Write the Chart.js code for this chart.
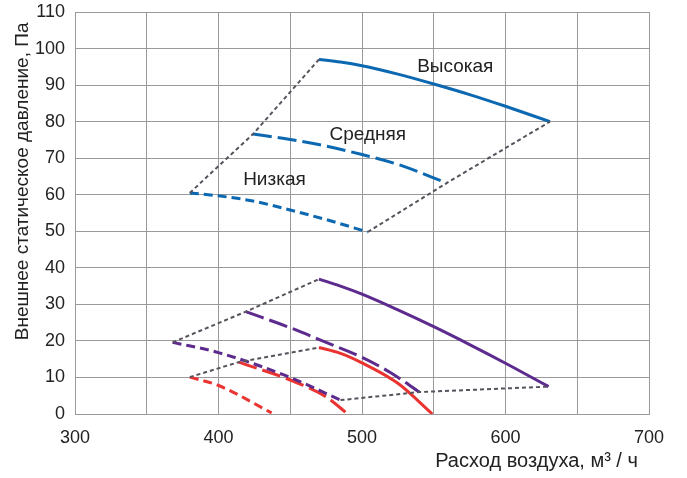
<!DOCTYPE html>
<html>
<head>
<meta charset="utf-8">
<script src="https://cdn.jsdelivr.net/npm/chart.js@4/dist/chart.umd.min.js"></script>
<style>
html,body{margin:0;padding:0;background:#fff;}
#wrap{width:687px;height:478px;}
</style>
</head>
<body>
<div id="wrap"><canvas id="c" width="687" height="478"></canvas></div>
<script>
// ---- data ----
const xTickLabels = [300, 400, 500, 600, 700];
const yTickLabels = [0, 10, 20, 30, 40, 50, 60, 70, 80, 90, 100, 110];

const highX = [470, 485, 500, 525, 550, 575, 600, 631];
const highY = [97, 96.3, 95.3, 93.0, 90.3, 87.4, 84.2, 80];
const midX = [424, 450, 475, 500, 525, 559];
const midY = [76.6, 75.1, 73.3, 71.0, 68.3, 63.2];
const lowX = [380, 400, 425, 450, 475, 504];
const lowY = [60.5, 59.7, 58.2, 55.8, 53.2, 49.8];
const connAX = [380, 424, 470];
const connAY = [60.5, 76.6, 97];
const connBX = [504, 559, 631];
const connBY = [49.8, 63.2, 80];

const purpleSolidX = [470, 485, 500, 525, 550, 575, 600, 630];
const purpleSolidY = [36.9, 35.0, 32.8, 28.5, 23.9, 19.0, 13.9, 7.5];
const purpleLongX = [419, 450, 475, 500, 520, 540];
const purpleLongY = [28.0, 23.6, 19.6, 15.5, 11.3, 6.0];
const purpleShortX = [368, 400, 450, 485];
const purpleShortY = [19.6, 16.8, 10.0, 3.8];

const redSolidX = [470, 485, 500, 525, 549];
const redSolidY = [18.2, 16.6, 14.0, 8.4, 0];
const redLongX = [414, 450, 475, 490];
const redLongY = [14.2, 9.3, 4.7, 0];
const redShortX = [380, 400, 437];
const redShortY = [10.1, 7.8, 0.3];

const connCX = [368, 419, 470];
const connCY = [19.6, 28.0, 36.9];
const connDX = [380, 414, 470];
const connDY = [10.1, 14.2, 18.2];
const connEX = [485, 540, 630];
const connEY = [3.8, 6.0, 7.5];

const curveLabels = ['Высокая', 'Средняя', 'Низкая'];
const curveLabelX = [565, 504, 439];
const curveLabelY = [95.1, 76.4, 64.1];

// ---- styles ----
const BLUE = '#0b68b1';
const PURPLE = '#5d2a8e';
const RED = '#ea3431';
const GRAY = '#57525c';
const SOLID = [];
const LONG = [19, 6];
const SHORT = [9, 5];
const DOT = [4, 3];

function pts(xs, ys) { return xs.map((x, i) => ({x: x, y: ys[i]})); }
function curve(xs, ys, color, dash, width, smooth) {
  return {
    data: pts(xs, ys), showLine: true, borderColor: color, backgroundColor: color,
    borderWidth: width, borderDash: dash, pointRadius: 0, pointHoverRadius: 0,
    cubicInterpolationMode: smooth ? 'monotone' : 'default', tension: 0,
    borderCapStyle: 'butt', fill: false
  };
}

const datasets = [
  curve(connAX, connAY, GRAY, DOT, 2, false),
  curve(connBX, connBY, GRAY, DOT, 2, false),
  curve(connCX, connCY, GRAY, DOT, 2, false),
  curve(connDX, connDY, GRAY, DOT, 2, false),
  curve(connEX, connEY, GRAY, DOT, 2, false),
  curve(highX, highY, BLUE, SOLID, 3, true),
  curve(midX, midY, BLUE, LONG, 3, true),
  curve(lowX, lowY, BLUE, SHORT, 3, true),
  curve(purpleSolidX, purpleSolidY, PURPLE, SOLID, 3, true),
  curve(purpleLongX, purpleLongY, PURPLE, LONG, 3, true),
  curve(purpleShortX, purpleShortY, PURPLE, SHORT, 3, true),
  curve(redSolidX, redSolidY, RED, SOLID, 3, true),
  curve(redLongX, redLongY, RED, LONG, 3, true),
  curve(redShortX, redShortY, RED, SHORT, 3, true)
];

const FONT = '"Liberation Sans", Arial, Helvetica, sans-serif';

const labelPlugin = {
  id: 'curveLabels',
  afterDatasetsDraw(chart) {
    const ctx = chart.ctx;
    const xs = chart.scales.x, ys = chart.scales.y;
    ctx.save();
    ctx.font = '19px ' + FONT;
    ctx.fillStyle = '#222';
    ctx.textAlign = 'center';
    ctx.textBaseline = 'middle';
    curveLabels.forEach((t, i) => {
      ctx.fillText(t, xs.getPixelForValue(curveLabelX[i]), ys.getPixelForValue(curveLabelY[i]));
    });
    ctx.restore();
  }
};

new Chart(document.getElementById('c'), {
  type: 'scatter',
  data: { datasets: datasets },
  plugins: [labelPlugin],
  options: {
    responsive: false,
    animation: false,
    events: [],
    layout: { padding: { top: 12, right: 38, left: 0, bottom: 0 } },
    plugins: { legend: { display: false }, tooltip: { enabled: false } },
    scales: {
      x: {
        type: 'linear', min: 300, max: 700,
        afterFit: s => { s.height = 64; s.paddingLeft = 0; s.paddingRight = 0; },
        afterBuildTicks: s => {
          const t = [];
          for (let v = xTickLabels[0]; v <= xTickLabels[xTickLabels.length - 1]; v += 50) t.push({value: v});
          s.ticks = t;
        },
        ticks: {
          color: '#222', font: { family: FONT, size: 18 }, padding: 13, maxRotation: 0, autoSkip: false,
          callback: v => xTickLabels.includes(v) ? String(v) : ''
        },
        grid: { color: '#9a9a9a', lineWidth: 1, drawTicks: false },
        border: { color: '#9a9a9a', width: 1 },
        title: {
          display: true, text: 'Расход воздуха, м³ / ч  ', align: 'end',
          color: '#222', font: { family: FONT, size: 20 }, padding: { top: 0, bottom: 5 }
        }
      },
      y: {
        type: 'linear', min: 0, max: 110,
        afterFit: s => { s.width = 75; s.paddingTop = 0; s.paddingBottom = 0; },
        afterBuildTicks: s => { s.ticks = yTickLabels.map(v => ({value: v})); },
        ticks: {
          color: '#222', font: { family: FONT, size: 18 }, padding: 10, autoSkip: false,
          callback: v => String(v)
        },
        grid: { color: '#9a9a9a', lineWidth: 1, drawTicks: false },
        border: { color: '#9a9a9a', width: 1 },
        title: {
          display: true, text: 'Внешнее статическое давление, Па  ', align: 'end',
          color: '#222', font: { family: FONT, size: 19 }, padding: { top: 11, bottom: 0 }
        }
      }
    }
  }
});
</script>
</body>
</html>
